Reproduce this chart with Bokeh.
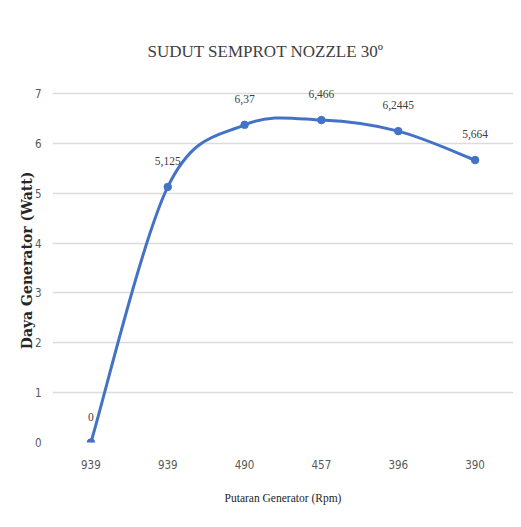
from bokeh.plotting import figure
from bokeh.models import Range1d, FixedTicker, ColumnDataSource, LabelSet
from bokeh.embed import file_html
from bokeh.resources import INLINE

rpm_labels = ["939", "939", "490", "457", "396", "390"]
daya = [0, 5.125, 6.37, 6.466, 6.2445, 5.664]
daya_text = ["0", "5,125", "6,37", "6,466", "6,2445", "5,664"]
y_ticks = [0, 1, 2, 3, 4, 5, 6, 7]
title_text = "SUDUT SEMPROT NOZZLE 30º"
x_title = "Putaran Generator (Rpm)"
y_title = "Daya Generator (Watt)"

xs = list(range(len(daya)))

NARROW = "'Liberation Sans Narrow', 'DejaVu Sans Condensed', 'Roboto Condensed', Roboto"

p = figure(width=513, height=519, output_backend="svg", toolbar_location=None,
           x_range=Range1d(-0.5, len(daya) - 0.5), y_range=Range1d(0, 7.3),
           min_border_left=52, min_border_right=0, min_border_top=78, min_border_bottom=77)

p.outline_line_color = None
p.background_fill_color = "white"
p.border_fill_color = "white"

p.title.text = title_text
p.title.text_font = "Liberation Serif"
p.title.text_font_style = "normal"
p.title.text_font_size = "17px"
p.title.text_color = "#404040"
p.title.align = "left"
p.title.offset = 95
p.title.standoff = 36

# grid
p.xgrid.grid_line_color = None
p.ygrid.grid_line_color = "#dcdcdc"
p.ygrid.grid_line_width = 1.5
p.ygrid.ticker = FixedTicker(ticks=y_ticks)

# axes
p.yaxis.ticker = FixedTicker(ticks=y_ticks)
p.xaxis.ticker = FixedTicker(ticks=xs)
p.xaxis.major_label_overrides = {i: l for i, l in enumerate(rpm_labels)}
for ax in (p.xaxis[0], p.yaxis[0]):
    ax.axis_line_color = None
    ax.major_tick_line_color = None
    ax.minor_tick_line_color = None
    ax.major_label_text_font = NARROW
    ax.major_label_text_font_size = "11.5px"
    ax.major_label_text_color = "#595959"
p.xaxis.major_label_standoff = 11
p.yaxis.major_label_standoff = 5

p.xaxis.axis_label = x_title
p.xaxis.axis_label_text_font = "Liberation Serif"
p.xaxis.axis_label_text_font_style = "normal"
p.xaxis.axis_label_text_font_size = "11.5px"
p.xaxis.axis_label_text_color = "#262626"
p.xaxis.axis_label_standoff = 20

p.yaxis.axis_label = y_title
p.yaxis.axis_label_text_font = "'DejaVu Serif'"
p.yaxis.axis_label_text_font_style = "bold"
p.yaxis.axis_label_text_font_size = "14px"
p.yaxis.axis_label_text_color = "#262626"
p.yaxis.axis_label_standoff = -3

# smoothed line (Excel-style Bezier through data points)
n = len(daya)
x0s, y0s, x1s, y1s, cx0s, cy0s, cx1s, cy1s = [], [], [], [], [], [], [], []
for i in range(n - 1):
    xa, ya = xs[i], daya[i]
    xb, yb = xs[i + 1], daya[i + 1]
    xp, yp = (xs[i - 1], daya[i - 1]) if i > 0 else (xa, ya)
    xn, yn = (xs[i + 2], daya[i + 2]) if i + 2 < n else (xb, yb)
    x0s.append(xa); y0s.append(ya); x1s.append(xb); y1s.append(yb)
    cx0s.append(xa + (xb - xp) / 6); cy0s.append(ya + (yb - yp) / 6)
    cx1s.append(xb - (xn - xa) / 6); cy1s.append(yb - (yn - ya) / 6)

p.bezier(x0=x0s, y0=y0s, x1=x1s, y1=y1s, cx0=cx0s, cy0=cy0s, cx1=cx1s, cy1=cy1s,
         line_color="#4472C4", line_width=3)

src = ColumnDataSource(dict(x=xs, y=daya, t=daya_text))
p.scatter("x", "y", source=src, size=7.5, fill_color="#4472C4", line_color="#4472C4")

labels = LabelSet(x="x", y="y", text="t", source=src, y_offset=22, text_align="center",
                  text_baseline="bottom", text_font=NARROW,
                  text_font_size="11.5px", text_color="#404040")
p.add_layout(labels)

open("out.html", "w").write(file_html(p, INLINE))
